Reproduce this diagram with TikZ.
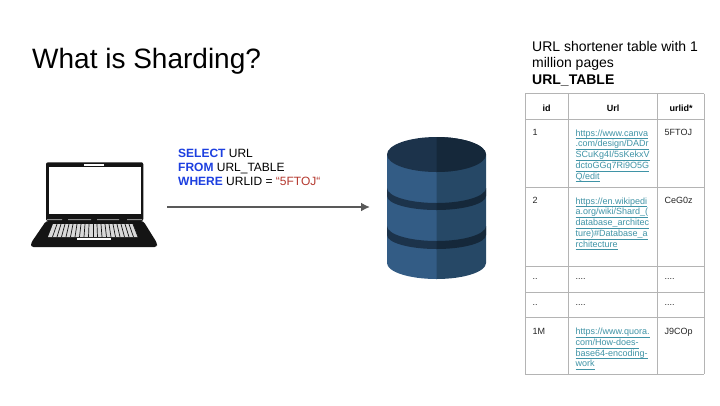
\documentclass[tikz,border=0pt]{standalone}
\usepackage{fontspec}
\usetikzlibrary{arrows.meta}
\setmainfont{Liberation Sans}
\definecolor{sqlblue}{HTML}{1C3FE0}
\definecolor{sqlred}{HTML}{B5392F}
\definecolor{linkteal}{HTML}{3F93A6}
\definecolor{gridgray}{HTML}{B4B4B4}
\definecolor{arrowgray}{HTML}{595959}
\definecolor{dbface}{HTML}{335C85}
\definecolor{dbshade}{HTML}{264866}
\definecolor{dbtop}{HTML}{1C334B}
\definecolor{dbtopdark}{HTML}{15283A}
\newcommand{\lnk}[1]{\underline{\smash{#1}\vrule width 0pt height 6.5pt depth 0.9pt}}
\tikzset{
    cell/.style={anchor=north west, inner sep=0pt, align=left, font=\fontsize{9}{10.75}\selectfont, text=black!85},
    head/.style={anchor=center, inner sep=0pt, font=\fontsize{9}{10.75}\selectfont\bfseries},
    link/.style={cell, text=linkteal}
}
\begin{document}
\begin{tikzpicture}[x=1pt, y=-1pt]
    \useasboundingbox (0,0) rectangle (720,405);
    \fill[white] (0,0) rectangle (720,405);

    % Title
    \node[anchor=west, inner sep=0pt, font=\fontsize{28}{32}\selectfont] (title) at (32,61.5) {What is Sharding?};

    % Laptop
    \fill[black!92, rounded corners=2pt] (46,162.3) rectangle (143.3,221);
    \fill[white] (48.7,167.3) rectangle (140.7,214.3);
    \fill[white] (84,164) rectangle (104,165.7);
    \fill[black!92, rounded corners=2.5pt] (46,221) -- (143.3,221) -- (157,243) -- (157,247) -- (31,247) -- (31,243) -- cycle;
    \fill[black!45] (47,219) rectangle (62,220) (68,219) rectangle (91,220) (97,219) rectangle (119,220) (127,219) rectangle (142,220);
    \fill[black!15] (53,224) -- (133,224) -- (138,237) -- (48,237) -- cycle;
    \foreach \i in {1,...,20}
        \draw[black!92, line width=0.7pt] ({53+\i*4},224) -- ({48+\i*4.5},237);
    \fill[white] (77,237.5) rectangle (111,240.3);

    % Database
    \fill[dbface] (437,154.5) -- (387,154.5) -- (387,263) arc (180:90:49.5 and 16) -- (437,279) -- cycle;
    \fill[dbshade] (436.5,154.5) -- (486,154.5) -- (486,263) arc (0:90:49.5 and 16) -- cycle;
    \fill[dbtop] (387,188) arc (180:90:49.5 and 15) -- (437,203) -- (437,210) -- (436.5,210) arc (90:180:49.5 and 14) -- cycle;
    \fill[dbtopdark] (486,188) arc (0:90:49.5 and 15) -- (436.5,210) arc (90:0:49.5 and 14) -- cycle;
    \fill[dbtop] (387,226) arc (180:90:49.5 and 15) -- (437,241) -- (437,249) -- (436.5,249) arc (90:180:49.5 and 14) -- cycle;
    \fill[dbtopdark] (486,226) arc (0:90:49.5 and 15) -- (436.5,249) arc (90:0:49.5 and 14) -- cycle;
    \fill[dbtop] (436.5,154.5) ellipse (49.5 and 17.5);
    \fill[dbtopdark] (436.5,137) arc (-90:90:49.5 and 17.5) -- cycle;

    % Query
    \node[anchor=north west, inner sep=0pt, align=left, font=\fontsize{12}{14}\selectfont] (query) at (178,148.5)
        {\textcolor{sqlblue}{\textbf{SELECT}} URL\\
         \textcolor{sqlblue}{\textbf{FROM}} URL\_TABLE\\
         \textcolor{sqlblue}{\textbf{WHERE}} URLID = \textcolor{sqlred}{“5FTOJ“}};
    \coordinate (from) at (167,207);
    \coordinate (to) at (370,207);
    \draw[arrowgray, line width=2.2pt, -{Latex[length=9pt,width=9pt]}] (from) -- (to);

    % Table caption
    \node[anchor=north west, inner sep=0pt, align=left, font=\fontsize{14}{16.5}\selectfont] (caption) at (532,41)
        {URL shortener table with 1\\million pages\\\textbf{URL\_TABLE}};

    % Table grid
    \foreach \x in {525,568.5,657.5,704}
        \draw[gridgray, line width=0.8pt] (\x,93.5) -- (\x,374);
    \foreach \y in {93.5,119,187,266.5,292,317,374}
        \draw[gridgray, line width=0.8pt] (525,\y) -- (704,\y);

    % Table text
    \node[head] (hid) at (546.5,108) {id};
    \node[head] (hurl) at (613,108) {Url};
    \node[head] (hkey) at (681,108) {urlid*};

    \node[cell] (a1) at (532.5,129.5) {1};
    \node[link] (b1) at (575.5,129.5) {\lnk{https://www.canva}\\\lnk{.com/design/DADr}\\\lnk{SCuKg4I/5sKekxV}\\\lnk{dctoGGq7Ri9O5G}\\\lnk{Q/edit}};
    \node[cell] (c1) at (664.5,129.5) {5FTOJ};

    \node[cell] (a2) at (532.5,197.5) {2};
    \node[link] (b2) at (575.5,197.5) {\lnk{https://en.wikipedi}\\\lnk{a.org/wiki/Shard\_(}\\\lnk{database\_architec}\\\lnk{ture)\#Database\_a}\\\lnk{rchitecture}};
    \node[cell] (c2) at (664.5,197.5) {CeG0z};

    \node[cell] (a3) at (532.5,278) {..};
    \node[cell] (b3) at (575.5,278) {....};
    \node[cell] (c3) at (664.5,278) {....};

    \node[cell] (a4) at (532.5,304) {..};
    \node[cell] (b4) at (575.5,304) {....};
    \node[cell] (c4) at (664.5,304) {....};

    \node[cell] (a5) at (532.5,328) {1M};
    \node[link] (b5) at (575.5,328) {\lnk{https://www.quora.}\\\lnk{com/How-does-}\\\lnk{base64-encoding-}\\\lnk{work}};
    \node[cell] (c5) at (664.5,328) {J9COp};
\end{tikzpicture}
\end{document}
